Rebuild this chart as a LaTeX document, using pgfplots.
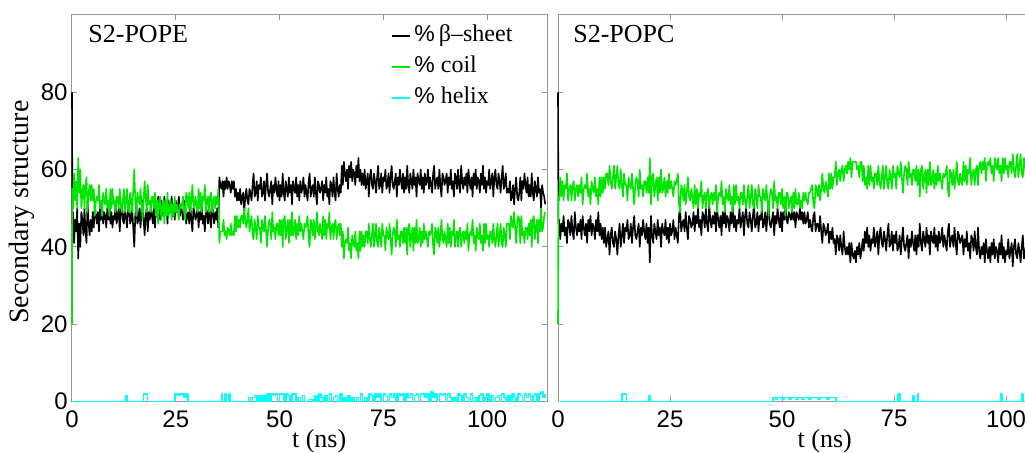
\documentclass[border=0pt]{standalone}
\usepackage{fontspec}
\setmainfont{Liberation Serif}
\setsansfont{Liberation Sans}
\usepackage{pgfplots}
\pgfplotsset{compat=1.18}
\usepackage{pgfplotstable}
\definecolor{mgreen}{RGB}{0,230,0}
\definecolor{mcyan}{RGB}{0,255,255}
\definecolor{framegray}{RGB}{150,150,150}

% S2-POPE: t (ns), beta-sheet %, coil %
\pgfplotstableread{
t b c
0 80 20
0.1 46 55
0.25 49 50
0.5 41 59
0.75 47 52
1.0 44 57
1.25 50 50
1.5 37 63
1.75 46 54
2.0 40 60
2.25 49 50
2.5 47 54
2.75 43 56
3.0 50 50
3.25 44 56
3.5 41 58
3.75 52 49
4.0 46 54
4.25 43 56
4.5 47 52
4.75 44 56
5.0 49 52
5.25 45 55
5.5 51 48
5.75 48 52
6.0 46 53
6.25 49 52
6.5 44 56
6.75 50 50
7.0 47 52
7.25 51 48
7.5 46 54
7.75 49 52
8.0 48 51
8.25 45 55
8.5 50 50
8.75 47 52
9.0 52 48
9.25 46 55
9.5 49 50
9.75 45 55
10.0 48 51
10.25 47 52
10.5 51 49
10.75 46 53
11.0 48 53
11.25 50 50
11.5 44 55
11.75 49 51
12.0 51 49
12.25 47 52
12.5 46 55
12.75 50 49
13.0 48 52
13.25 45 55
13.5 49 50
13.75 52 49
14.0 46 54
14.25 47 52
14.5 50 49
14.75 45 55
15.0 40 60
15.25 48 52
15.5 51 48
15.75 46 54
16.0 47 52
16.25 50 51
16.5 45 55
16.75 49 51
17.0 52 47
17.25 47 52
17.5 43 57
17.75 48 53
18.0 50 49
18.25 44 56
18.5 49 51
18.75 47 52
19.0 51 49
19.25 48 53
19.5 46 53
19.75 50 50
20.0 45 54
20.25 51 48
20.5 48 52
20.75 53 46
21.0 49 52
21.25 47 53
21.5 52 47
21.75 50 50
22.0 48 52
22.25 53 46
22.5 49 52
22.75 51 48
23.0 46 54
23.25 52 48
23.5 50 49
23.75 49 52
24.0 53 47
24.25 48 51
24.5 51 48
24.75 47 53
25.0 52 49
25.25 49 51
25.5 50 49
25.75 53 47
26.0 48 51
26.25 51 50
26.5 49 51
26.75 47 53
27.0 50 49
27.25 52 47
27.5 46 54
27.75 48 53
28.0 49 50
28.25 46 54
28.5 51 49
28.75 47 52
29.0 44 56
29.25 50 51
29.5 49 50
29.75 47 53
30.0 48 51
30.25 50 49
30.5 45 55
30.75 49 50
31.0 47 54
31.25 51 49
31.5 46 53
31.75 48 52
32.0 44 56
32.25 50 49
32.5 49 52
32.75 46 53
33.0 51 49
33.25 47 53
33.5 45 54
33.75 52 49
34.0 48 52
34.25 46 53
34.5 49 50
34.75 47 53
35.0 50 51
35.25 45 55
35.5 58 41
35.75 56 44
36.0 55 44
36.25 57 44
36.5 53 47
36.75 57 43
37.0 55 44
37.25 58 42
37.5 55 45
37.75 57 44
38.0 56 43
38.25 54 46
38.5 57 43
38.75 55 44
39.0 57 43
39.25 53 48
39.5 55 44
39.75 52 48
40.0 54 45
40.25 52 47
40.5 55 45
40.75 51 48
41.0 53 48
41.25 54 46
41.5 49 50
41.75 53 47
42.0 55 45
42.25 52 47
42.5 51 50
42.75 55 44
43.0 54 46
43.25 52 48
43.5 56 43
43.75 59 42
44.0 53 47
44.25 54 45
44.5 57 42
44.75 52 48
45.0 56 45
45.25 55 45
45.5 58 41
45.75 53 47
46.0 54 45
46.25 57 44
46.5 52 48
46.75 56 44
47.0 59 40
47.25 54 45
47.5 53 47
47.75 55 46
48.0 57 42
48.25 51 49
48.5 56 44
48.75 54 45
49.0 58 42
49.25 55 46
49.5 53 46
49.75 57 43
50.0 52 47
50.25 56 43
50.5 53 47
50.75 59 40
51.0 54 47
51.25 52 48
51.5 57 42
51.75 55 45
52.0 53 47
52.25 58 41
52.5 54 47
52.75 56 43
53.0 51 49
53.25 57 43
53.5 55 44
53.75 54 47
54.0 58 42
54.25 53 46
54.5 56 43
54.75 52 48
55.0 57 44
55.25 54 46
55.5 55 44
55.75 58 42
56.0 53 46
56.25 56 45
56.5 54 46
56.75 52 48
57.0 57 42
57.25 59 40
57.5 53 47
57.75 55 46
58.0 56 43
58.25 53 47
58.5 58 42
58.75 54 45
59.0 51 49
59.25 57 44
59.5 56 43
59.75 54 46
60.0 55 44
60.25 57 42
60.5 52 48
60.75 56 43
61.0 54 47
61.25 58 42
61.5 53 46
61.75 55 45
62.0 51 49
62.25 57 42
62.5 56 45
62.75 53 46
63.0 58 42
63.25 54 46
63.5 52 47
63.75 59 42
64.0 55 45
64.25 53 46
64.5 56 43
64.75 54 46
65.0 61 40
65.25 56 44
65.5 62 37
65.75 59 41
66.0 57 42
66.25 60 41
66.5 55 45
66.75 61 39
67.0 58 41
67.25 62 37
67.5 57 43
67.75 60 41
68.0 59 40
68.25 56 44
68.5 61 39
68.75 58 41
69.0 63 37
69.25 57 44
69.5 60 39
69.75 56 44
70.0 59 40
70.25 56 43
70.5 60 40
70.75 55 44
71.0 57 44
71.25 59 41
71.5 53 46
71.75 58 42
72.0 60 40
72.25 56 43
72.5 55 46
72.75 59 40
73.0 57 43
73.25 54 46
73.5 58 41
73.75 61 40
74.0 55 45
74.25 56 43
74.5 59 40
74.75 54 46
75.0 58 43
75.25 57 43
75.5 60 39
75.75 55 45
76.0 56 43
76.25 59 42
76.5 54 46
76.75 58 42
77.0 61 38
77.25 56 43
77.5 55 45
77.75 57 44
78.0 59 40
78.25 53 47
78.5 58 42
78.75 56 43
79.0 60 40
79.25 57 44
79.5 55 44
79.75 59 41
80.0 54 45
80.25 58 41
80.5 55 45
80.75 61 38
81.0 56 45
81.25 54 46
81.5 59 40
81.75 57 43
82.0 55 45
82.25 60 39
82.5 56 45
82.75 58 41
83.0 53 47
83.25 59 41
83.5 57 42
83.75 56 45
84.0 60 40
84.25 55 44
84.5 58 41
84.75 54 46
85.0 59 42
85.25 56 44
85.5 57 42
85.75 60 40
86.0 55 44
86.25 58 43
86.5 56 44
86.75 54 46
87.0 59 40
87.25 61 38
87.5 55 45
87.75 57 44
88.0 58 41
88.25 55 45
88.5 60 40
88.75 56 43
89.0 53 47
89.25 59 42
89.5 58 41
89.75 56 44
90.0 57 42
90.25 59 40
90.5 54 46
90.75 58 41
91.0 56 45
91.25 60 40
91.5 55 44
91.75 57 43
92.0 53 47
92.25 59 40
92.5 58 43
92.75 55 44
93.0 60 40
93.25 56 44
93.5 54 45
93.75 61 40
94.0 57 43
94.25 55 44
94.5 58 41
94.75 56 44
95.0 59 42
95.25 54 46
95.5 60 39
95.75 57 43
96.0 55 44
96.25 58 43
96.5 53 47
96.75 59 41
97.0 56 43
97.25 60 39
97.5 55 45
97.75 58 43
98.0 57 42
98.25 54 46
98.5 59 41
98.75 56 43
99.0 61 39
99.25 55 46
99.5 58 41
99.75 54 46
100.0 57 42
100.25 56 43
100.5 60 40
100.75 55 44
101.0 57 44
101.25 59 41
101.5 53 46
101.75 58 42
102.0 60 40
102.25 56 43
102.5 55 46
102.75 59 40
103.0 57 43
103.25 54 46
103.5 58 41
103.75 61 40
104.0 55 45
104.25 56 43
104.5 59 40
104.75 54 46
105.0 55 46
105.25 54 46
105.5 57 42
105.75 52 48
106.0 53 46
106.25 56 45
106.5 51 49
106.75 55 45
107.0 58 41
107.25 53 46
107.5 52 48
107.75 54 47
108.0 58 41
108.25 52 48
108.5 57 43
108.75 55 44
109.0 59 41
109.25 56 45
109.5 54 45
109.75 58 42
110.0 53 46
110.25 56 43
110.5 53 47
110.75 59 40
111.0 54 47
111.25 52 48
111.5 57 42
111.75 55 45
112.0 53 47
112.25 58 41
112.5 54 47
112.75 55 44
113.0 50 50
113.25 56 44
113.5 54 45
113.75 53 48
114.0 51 49
}\popeTable

% S2-POPC: t (ns), beta-sheet %, coil %
\pgfplotstableread{
t b c
0 80 20
0.1 46 53
0.25 47 52
0.5 42 58
0.75 46 53
1.0 44 57
1.25 48 52
1.5 43 56
1.75 45 55
2.0 41 59
2.25 47 52
2.5 46 55
2.75 43 56
3.0 48 52
3.25 44 56
3.5 42 57
3.75 49 52
4.0 45 55
4.25 43 56
4.5 46 53
4.75 44 56
5.0 47 54
5.25 42 58
5.5 48 51
5.75 45 55
6.0 43 56
6.25 46 55
6.5 41 59
6.75 47 53
7.0 44 55
7.25 48 51
7.5 43 57
7.75 46 55
8.0 45 54
8.25 42 58
8.5 47 53
8.75 44 55
9.0 49 51
9.25 43 58
9.5 46 53
9.75 42 58
10.0 45 54
10.25 41 58
10.5 45 55
10.75 40 59
11.0 42 59
11.25 44 56
11.5 38 61
11.75 43 57
12.0 45 55
12.25 41 58
12.5 40 61
12.75 44 55
13.0 42 58
13.25 38 61
13.5 43 56
13.75 46 55
14.0 40 60
14.25 43 56
14.5 46 53
14.75 41 59
15.0 45 56
15.25 44 56
15.5 47 52
15.75 42 58
16.0 43 56
16.25 46 55
16.5 41 59
16.75 45 55
17.0 48 51
17.25 43 56
17.5 42 58
17.75 44 57
18.0 46 53
18.25 40 60
18.5 45 55
18.75 43 56
19.0 47 53
19.25 44 57
19.5 42 57
19.75 46 54
20.0 41 58
20.25 45 54
20.5 36 63
20.75 48 51
21.0 43 58
21.25 41 59
21.5 46 53
21.75 44 56
22.0 42 58
22.25 47 52
22.5 43 58
22.75 45 54
23.0 40 60
23.25 46 54
23.5 44 55
23.75 43 58
24.0 47 53
24.25 42 57
24.5 45 54
24.75 41 59
25.0 46 55
25.25 43 57
25.5 44 55
25.75 47 53
26.0 42 57
26.25 45 56
26.5 43 57
26.75 41 59
27.0 48 51
27.25 50 49
27.5 44 56
27.75 46 55
28.0 47 52
28.25 44 56
28.5 49 51
28.75 45 54
29.0 42 58
29.25 48 53
29.5 47 52
29.75 45 55
30.0 46 53
30.25 49 50
30.5 44 56
30.75 48 51
31.0 46 55
31.25 50 50
31.5 45 54
31.75 47 53
32.0 43 57
32.25 49 50
32.5 48 53
32.75 45 54
33.0 50 50
33.25 46 54
33.5 44 55
33.75 51 50
34.0 47 53
34.25 45 54
34.5 48 51
34.75 46 54
35.0 49 52
35.25 44 56
35.5 50 49
35.75 47 53
36.0 45 54
36.25 48 53
36.5 43 57
36.75 49 51
37.0 46 53
37.25 50 49
37.5 45 55
37.75 48 53
38.0 47 52
38.25 44 56
38.5 49 51
38.75 46 53
39.0 51 49
39.25 45 56
39.5 48 51
39.75 44 56
40.0 47 52
40.25 46 53
40.5 50 50
40.75 45 54
41.0 47 54
41.25 49 51
41.5 43 56
41.75 48 52
42.0 50 50
42.25 46 53
42.5 45 56
42.75 49 50
43.0 47 53
43.25 44 56
43.5 48 51
43.75 51 50
44.0 45 55
44.25 46 53
44.5 49 50
44.75 44 56
45.0 48 53
45.25 47 53
45.5 50 49
45.75 45 55
46.0 46 53
46.25 49 52
46.5 44 56
46.75 48 52
47.0 51 48
47.25 46 53
47.5 45 55
47.75 47 54
48.0 49 50
48.25 43 57
48.5 48 52
48.75 46 53
49.0 50 50
49.25 47 54
49.5 45 54
49.75 49 51
50.0 44 55
50.25 49 50
50.5 47 53
50.75 51 48
51.0 47 54
51.25 46 54
51.5 49 50
51.75 48 52
52.0 47 53
52.25 50 49
52.5 47 54
52.75 49 50
53.0 45 55
53.25 49 51
53.5 48 51
53.75 47 54
54.0 50 50
54.25 47 52
54.5 49 50
54.75 46 54
55.0 49 52
55.25 46 54
55.5 47 52
55.75 49 51
56.0 45 54
56.25 47 54
56.5 45 55
56.75 44 56
57.0 48 51
57.25 49 50
57.5 44 56
57.75 46 55
58.0 46 53
58.25 44 56
58.5 48 52
58.75 44 55
59.0 41 59
59.25 46 55
59.5 45 54
59.75 43 57
60.0 44 55
60.25 46 53
60.5 41 59
60.75 44 55
61.0 42 59
61.25 45 55
61.5 41 58
61.75 42 58
62.0 38 62
62.25 43 56
62.5 42 59
62.75 39 60
63.0 43 57
63.25 40 60
63.5 38 61
63.75 44 57
64.0 40 60
64.25 38 61
64.5 40 59
64.75 38 62
65.0 41 60
65.25 36 63
65.5 41 58
65.75 38 62
66.0 37 62
66.25 39 62
66.5 36 62
66.75 40 60
67.0 38 61
67.25 41 58
67.5 37 62
67.75 39 62
68.0 42 57
68.25 39 61
68.5 44 56
68.75 41 58
69.0 45 55
69.25 40 61
69.5 43 56
69.75 39 61
70.0 42 57
70.25 41 58
70.5 45 55
70.75 40 59
71.0 42 59
71.25 44 56
71.5 38 61
71.75 43 57
72.0 45 55
72.25 41 58
72.5 40 61
72.75 44 55
73.0 42 58
73.25 39 61
73.5 43 56
73.75 46 55
74.0 40 60
74.25 41 58
74.5 44 55
74.75 39 61
75.0 43 58
75.25 41 59
75.5 44 55
75.75 39 61
76.0 40 59
76.25 43 58
76.5 38 62
76.75 42 58
77.0 45 54
77.25 40 59
77.5 39 61
77.75 41 60
78.0 43 56
78.25 37 62
78.5 42 58
78.75 40 59
79.0 44 56
79.25 41 60
79.5 39 60
79.75 43 57
80.0 38 61
80.25 43 56
80.5 40 60
80.75 46 53
81.0 41 60
81.25 39 61
81.5 44 55
81.75 42 58
82.0 40 60
82.25 45 54
82.5 41 60
82.75 43 56
83.0 38 62
83.25 44 56
83.5 42 57
83.75 41 60
84.0 45 55
84.25 40 59
84.5 43 56
84.75 39 61
85.0 44 57
85.25 41 59
85.5 42 57
85.75 45 55
86.0 40 59
86.25 43 58
86.5 41 59
86.75 39 61
87.0 44 55
87.25 46 53
87.5 40 60
87.75 42 59
88.0 43 56
88.25 40 60
88.5 45 55
88.75 41 58
89.0 38 62
89.25 44 57
89.5 43 56
89.75 41 59
90.0 42 57
90.25 43 56
90.5 38 62
90.75 42 57
91.0 40 61
91.25 44 56
91.5 39 60
91.75 41 59
92.0 37 63
92.25 43 56
92.5 42 59
92.75 39 60
93.0 44 56
93.25 40 60
93.5 38 61
93.75 45 56
94.0 39 61
94.25 37 62
94.5 40 59
94.75 38 62
95.0 41 60
95.25 36 63
95.5 42 57
95.75 39 61
96.0 37 62
96.25 40 61
96.5 36 63
96.75 41 59
97.0 38 61
97.25 42 57
97.5 37 63
97.75 40 61
98.0 39 60
98.25 36 63
98.5 41 59
98.75 38 61
99.0 43 57
99.25 37 63
99.5 40 59
99.75 36 63
100.0 39 60
100.25 38 61
100.5 42 58
100.75 37 62
101.0 39 62
101.25 41 59
101.5 35 64
101.75 40 60
102.0 42 58
102.25 38 61
102.5 37 64
102.75 41 58
103.0 39 61
103.25 36 64
103.5 40 59
103.75 43 58
104.0 37 63
104.25 38 61
104.5 41 58
104.75 36 64
105.0 40 61
}\popcTable

\pgfplotsset{
  myaxis/.style={
    scale only axis,
    height=193.25pt,
    xmin=0, xmax=114.5, ymin=0, ymax=100,
    xtick={0,25,50,75,100},
    ytick={0,20,40,60,80},
    tick align=inside,
    major tick length=2.5pt,
    axis line style={framegray, line width=0.5pt},
    tick style={framegray, line width=0.5pt},
    clip=false,
    /pgf/number format/assume math mode=true,
    ticklabel style={font=\fontsize{12}{12}\selectfont\sffamily},
    xticklabel style={anchor=north, inner sep=0pt, yshift=-4.25pt},
    yticklabel style={anchor=east, inner sep=0pt, xshift=-2pt},
    xlabel={t (ns)},
    xlabel style={at={(axis description cs:0.52,-0.1203)}, anchor=base, inner sep=0pt, font=\fontsize{13}{15}\selectfont},
    title style={anchor=base west, inner sep=0pt, yshift=-6pt, font=\fontsize{13}{15}\selectfont},
    every axis plot/.append style={line width=0.8pt, line join=round},
  }
}

\begin{document}
\begin{tikzpicture}
\useasboundingbox (0,0) rectangle (512.5pt,226.5pt);
\clip (0,0) rectangle (512.5pt,226.5pt);
\begin{axis}[myaxis,
  at={(36pt,25.75pt)}, anchor=south west, width=237.65pt,
  ylabel={Secondary structure},
  ylabel style={at={(axis description cs:-0.105,0.49)}, anchor=center, font=\fontsize{14}{16}\selectfont},
  title={S2-POPE},
  title style={at={(axis description cs:0.0337,0.9276)}},
  legend style={at={(axis description cs:0.67,0.983)}, anchor=north west, draw=none, fill=none,
    font=\fontsize{12}{14}\selectfont, inner sep=0pt, row sep=1.5pt, column sep=1pt,
    nodes={inner sep=1pt, text height=9pt, text depth=3pt}},
  legend cell align=left,
  legend image code/.code={\draw[#1] (0pt,0pt) -- (9pt,0pt);},
]
\addplot[black] table[x=t,y=b]{\popeTable};
\addplot[mgreen] table[x=t,y=c]{\popeTable};
\addplot[mcyan, const plot] coordinates {
(0,0) (13,1.5) (13.4,0) (17.2,2) (18.2,0) (24.8,2) (25.6,1.5) (26,2) (27,1) (27.5,2) (28,0)
(36,2) (36.3,0) (36.8,2) (37.1,0) (37.8,2) (38.1,0) (42.5,1) (43,0) (43.5,1) (44,1.5) (44.5,0)
(45,1.5) (45.5,0) (46,1.5) (46.5,0) (47,2) (47.5,0) (48,2) (48.5,1.5) (49,2) (49.5,0) (50,2)
(50.5,2) (51,0) (51.5,2) (52,1.5) (52.5,0) (53,2) (53.5,2) (54,0) (54.5,1) (55,0) (55.5,1.5)
(56,0) (57,0.5) (58,0) (58.5,1.5) (59,0) (59.5,2) (60,1) (60.5,0) (61,1.5) (61.5,0) (62,2)
(62.5,0) (63,1) (63.5,1.5) (64,0) (64.5,2) (65,0) (65.5,1) (66,0) (66.5,1.5) (67,0) (67.5,1)
(68,0) (68.5,1) (69,0) (69.5,2) (70,0) (70.5,1) (71,0) (71.5,2) (72,1.5) (72.5,0) (73,2)
(73.5,1) (74,2) (74.5,0) (75,2) (75.5,1.5) (76,0) (76.5,2) (77,1) (77.5,2) (78,0) (78.5,2)
(79,1.5) (79.5,2) (80,0) (80.5,2) (81,1) (81.5,2) (82,0) (82.5,1.5) (83,2) (83.5,0) (84,2)
(84.5,2) (85,1) (85.5,2) (86,0) (86.5,2.5) (87,1) (87.5,2) (88,0) (88.5,2) (89,1.5) (89.5,2)
(90,0) (90.5,2) (91,1) (91.5,0) (92,1) (92.5,0) (93,2) (93.5,1.5) (94,0) (94.5,2) (95,1)
(95.5,0) (96,2) (96.5,0) (97,1) (97.5,0) (98,1.5) (98.5,2) (99,0) (99.5,1) (100,2) (100.5,0)
(101,1.5) (101.5,0) (102,1) (102.5,1.5) (103,0) (103.5,2) (104,1) (104.5,0) (105,1.5) (105.5,0)
(106,2) (106.5,1) (107,0) (107.5,2) (108,1.5) (108.5,0) (109,2) (109.5,1) (110,2) (110.5,0)
(111,1.5) (111.5,2) (112,0) (112.5,2) (113,2.5) (113.5,1) (114,2)
};
\legend{{\sffamily\fontsize{11.5}{14}\selectfont\%}\,β–sheet,{\sffamily\fontsize{11.5}{14}\selectfont\%} coil,{\sffamily\fontsize{11.5}{14}\selectfont\%} helix}
\end{axis}
\begin{axis}[myaxis,
  at={(279pt,25.75pt)}, anchor=south west, width=256.5pt,
  yticklabels={},
  title={S2-POPC},
  title style={at={(axis description cs:0.0292,0.9276)}},
]
\addplot[black] table[x=t,y=b]{\popcTable};
\addplot[mgreen] table[x=t,y=c]{\popcTable};
\addplot[mcyan, const plot] coordinates {
(0,0) (14.3,2) (15.3,0) (20.3,1.5) (20.6,0) (48,1) (48.6,0.5) (49,1) (50,0.5) (50.5,1)
(51.5,0.5) (52,1) (53,0.5) (53.5,1) (54.5,0.5) (55,1) (56,0.5) (56.5,1) (58,0.5) (58.5,1)
(60,0.5) (60.5,1) (62,0) (75.9,2) (76.3,0) (79.3,1.5) (79.6,0) (80.2,2) (80.5,0) (98.8,2)
(99.1,0) (103.5,2) (103.8,0) (106,0)
};
\end{axis}
\end{tikzpicture}
\end{document}
